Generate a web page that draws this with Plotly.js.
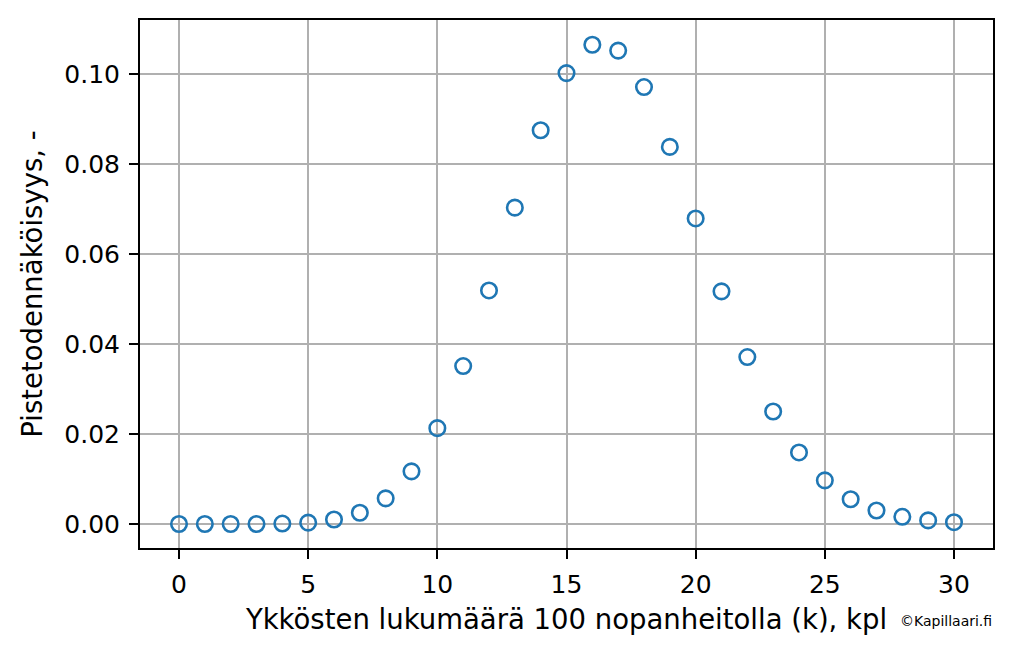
<!DOCTYPE html>
<html>
<head>
<meta charset="utf-8">
<script src="https://cdn.plot.ly/plotly-3.0.1.min.js"></script>
<style>html,body{margin:0;padding:0;background:#fff;}#chart{width:1012px;height:655px;}</style>
</head>
<body>
<div id="chart"></div>
<script>
const k = [0,1,2,3,4,5,6,7,8,9,10,11,12,13,14,15,16,17,18,19,20,21,22,23,24,25,26,27,28,29,30];
const probability = [0.0000, 0.0000, 0.0000, 0.0000, 0.0001, 0.0003, 0.0010, 0.0025, 0.0057, 0.0117,
  0.0213, 0.0351, 0.0519, 0.0703, 0.0875, 0.1002, 0.1065, 0.1052, 0.0971, 0.0838,
  0.0679, 0.0517, 0.0371, 0.0250, 0.0159, 0.0097, 0.0055, 0.0030, 0.0016, 0.0008, 0.0004];
const xTicks = [0,5,10,15,20,25,30];
const yTicks = [0,0.02,0.04,0.06,0.08,0.10];
const yTickLabels = ["0.00","0.02","0.04","0.06","0.08","0.10"];

const font = "DejaVu Sans, sans-serif";
const trace = {
  x: k, y: probability, type: 'scatter', mode: 'markers',
  marker: {symbol: 'circle-open', size: 15.5, color: '#1f77b4', line: {width: 2.6, color: '#1f77b4'}},
  hoverinfo: 'x+y'
};
const axisCommon = {
  showline: true, linecolor: '#000', linewidth: 2, mirror: true,
  ticks: 'outside', ticklen: 9, tickwidth: 2, tickcolor: '#000',
  showgrid: true, gridcolor: '#b0b0b0', gridwidth: 2,
  zeroline: false, tickfont: {family: font, size: 25, color: '#000'},
  ticklabelstandoff: 4
};
const layout = {
  width: 1012, height: 655,
  margin: {l: 140, r: 19, t: 20, b: 107},
  paper_bgcolor: '#fff', plot_bgcolor: '#fff',
  showlegend: false,
  xaxis: Object.assign({}, axisCommon, {
    range: [-1.51, 31.51], tickmode: 'array', tickvals: xTicks, ticktext: xTicks.map(String),
    title: {text: 'Ykkösten lukumäärä 100 nopanheitolla (k), kpl', font: {family: font, size: 27.5, color: '#000'}, standoff: 12}
  }),
  yaxis: Object.assign({}, axisCommon, {
    range: [-0.00533, 0.112], tickmode: 'array', tickvals: yTicks, ticktext: yTickLabels,
    title: {text: 'Pistetodennäköisyys, -', font: {family: font, size: 27.5, color: '#000'}, standoff: 14}
  }),
  annotations: [{
    text: '©Kapillaari.fi', xref: 'paper', yref: 'paper', x: 1.0, y: 0, xanchor: 'right', yanchor: 'middle',
    xshift: 1, yshift: -73, showarrow: false, font: {family: font, size: 14, color: '#000'}
  }]
};
Plotly.newPlot('chart', [trace], layout, {displayModeBar: false, staticPlot: true});
</script>
</body>
</html>
